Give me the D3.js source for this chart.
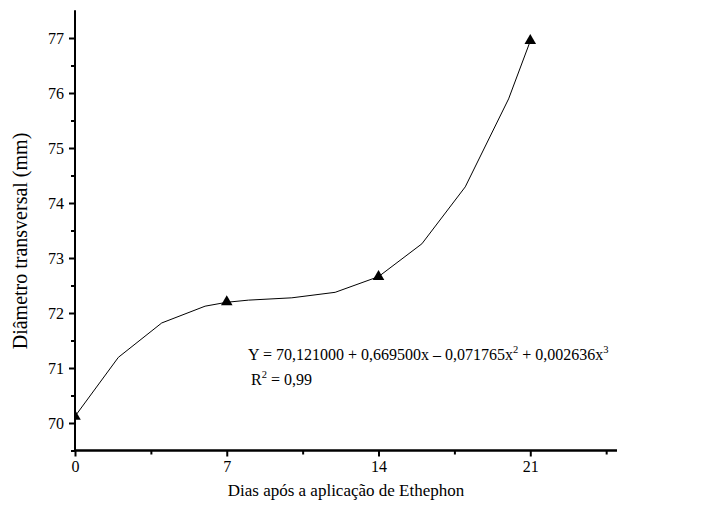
<!DOCTYPE html>
<html>
<head>
<meta charset="utf-8">
<script src="https://cdn.jsdelivr.net/npm/d3@7"></script>
<style>
  html, body { margin: 0; padding: 0; background: #fff; }
</style>
</head>
<body>
<svg id="chart" width="704" height="513"></svg>
<script>
// Observed mean transverse diameter (mm) on each sampling day
const obsDays = [0, 7, 14, 21];
const obsDiameter = [70.12, 72.2, 72.66, 76.95];

// Fitted cubic regression curve, sampled every two days
const fitDays = [0, 2, 4, 6, 7, 8, 10, 12, 14, 16, 18, 20, 21];
const fitDiameter = [70.121, 71.194, 71.819, 72.124, 72.195, 72.234, 72.276, 72.376, 72.661, 73.258, 74.293, 75.893, 76.945];

const xMajorTicks = [0, 7, 14, 21];
const xMinorTicks = [3.5, 10.5, 17.5, 24.5];
const yMajorTicks = [70, 71, 72, 73, 74, 75, 76, 77];
const yMinorTicks = [69.5, 70.5, 71.5, 72.5, 73.5, 74.5, 75.5, 76.5];

const serif = "'Liberation Serif'";

const svg = d3.select("#chart");
const plotLeft = 75, plotRight = 617, plotTop = 10.5, plotBottom = 450.5;

const x = d3.scaleLinear().domain([0, 25]).range([plotLeft, plotRight]);
const y = d3.scaleLinear().domain([69.5, 77.5]).range([plotBottom, plotTop]);

svg.append("defs").append("clipPath").attr("id", "plot")
  .append("rect").attr("x", plotLeft).attr("y", plotTop)
  .attr("width", plotRight - plotLeft).attr("height", plotBottom - plotTop);

// fitted curve
const line = d3.line().x(d => x(d[0])).y(d => y(d[1]));
svg.append("path")
  .datum(fitDays.map((d, i) => [d, fitDiameter[i]]))
  .attr("d", line)
  .attr("fill", "none")
  .attr("stroke", "#000")
  .attr("stroke-width", 1);

// observed points as filled triangles
const tri = d3.symbol().type(d3.symbolTriangle).size(58);
svg.append("g").attr("clip-path", "url(#plot)")
  .selectAll("path")
  .data(obsDays.map((d, i) => [d, obsDiameter[i]]))
  .join("path")
  .attr("d", tri)
  .attr("transform", d => `translate(${x(d[0])},${y(d[1])})`)
  .attr("fill", "#000");

// x axis
const xAxis = svg.append("g").attr("transform", `translate(0,${plotBottom})`);
xAxis.call(d3.axisBottom(x).tickValues(xMajorTicks).tickSize(6).tickPadding(4).tickFormat(d3.format("d")));
xAxis.append("g").call(d3.axisBottom(x).tickValues(xMinorTicks).tickSize(4).tickFormat(""));
xAxis.selectAll(".domain").attr("stroke-width", 2).attr("d", `M${plotLeft},0H${plotRight}`);
xAxis.selectAll(".tick line").attr("stroke-width", 2);
xAxis.selectAll(".tick text").style("font-size", "16px").style("font-family", serif);

// y axis
const yAxis = svg.append("g").attr("transform", `translate(${plotLeft},0)`);
yAxis.call(d3.axisLeft(y).tickValues(yMajorTicks).tickSize(6).tickPadding(5).tickFormat(d3.format("d")));
yAxis.append("g").call(d3.axisLeft(y).tickValues(yMinorTicks).tickSize(4).tickFormat(""));
yAxis.selectAll(".domain").attr("stroke-width", 2).attr("d", `M0,${plotTop}V${plotBottom}`);
yAxis.selectAll(".tick line").attr("stroke-width", 2);
yAxis.selectAll(".tick text").style("font-size", "16px").style("font-family", serif);

// axis titles
svg.append("text")
  .attr("x", (plotLeft + plotRight) / 2)
  .attr("y", 496)
  .attr("text-anchor", "middle")
  .style("font-family", serif).style("font-size", "17px")
  .text("Dias após a aplicação de Ethephon");

svg.append("text")
  .attr("transform", "translate(27,241) rotate(-90)")
  .attr("text-anchor", "middle")
  .style("font-family", serif).style("font-size", "20px")
  .text("Diâmetro transversal (mm)");

// regression equation
const eq = svg.append("text").attr("x", 248).attr("y", 360)
  .style("font-family", serif).style("font-size", "16px");
eq.append("tspan").text("Y = 70,121000 + 0,669500x – 0,071765x");
eq.append("tspan").attr("dy", -7).style("font-size", "10.5px").text("2");
eq.append("tspan").attr("dy", 7).text(" + 0,002636x");
eq.append("tspan").attr("dy", -7).style("font-size", "10.5px").text("3");

const r2 = svg.append("text").attr("x", 251).attr("y", 385)
  .style("font-family", serif).style("font-size", "16px");
r2.append("tspan").text("R");
r2.append("tspan").attr("dy", -7).style("font-size", "10.5px").text("2");
r2.append("tspan").attr("dy", 7).text(" = 0,99");
</script>
</body>
</html>
